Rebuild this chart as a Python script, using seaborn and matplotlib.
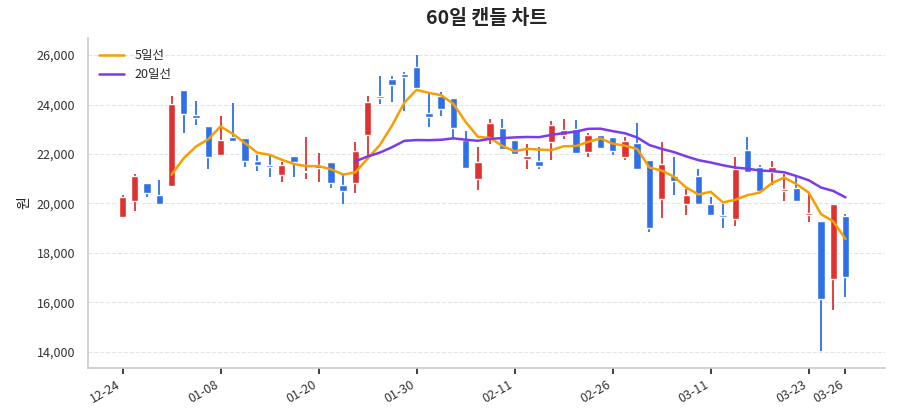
import numpy as np
import pandas as pd
import matplotlib
matplotlib.use('Agg')
import matplotlib.pyplot as plt
import seaborn as sns

opens = [19450, 20080, 20810, 20330, 20690, 24580, 23570, 23120, 21970, 22700,
         22660, 21700, 21550, 21140, 21910, 21260, 21450, 21680, 20730, 20840,
         22770, 24350, 25050, 25220, 25510, 23650, 24330, 24260, 22570, 20970,
         22640, 23070, 22570, 21790, 21700, 22490, 22770, 23000, 22100, 22760,
         22700, 21870, 22450, 21760, 20180, 21110, 19980, 21110, 19980, 19520,
         19390, 22160, 21470, 21290, 20500, 20620, 19520, 19290, 16960, 19500]
closes = [20260, 21110, 20430, 19980, 24030, 23620, 23460, 21890, 22570, 22540,
          21730, 21540, 21460, 21570, 21680, 21300, 21540, 20840, 20490, 22110,
          24110, 24270, 24800, 25100, 24690, 23500, 23810, 23040, 21450, 21680,
          23270, 22190, 21990, 21920, 21530, 23160, 22970, 22030, 22760, 22230,
          22120, 22540, 21390, 18990, 21610, 20890, 20350, 19980, 19540, 19460,
          21410, 21290, 20500, 21460, 20570, 20080, 19600, 16140, 19990, 17020]
highs = [20340, 21180, 20810, 20950, 24350, 24580, 24150, 23120, 23540, 24080,
         22660, 21950, 21950, 21680, 21910, 22690, 22030, 21680, 21160, 22490,
         24350, 25140, 25140, 25300, 26000, 24430, 24490, 24260, 22930, 22300,
         23430, 23430, 22570, 22390, 22300, 23340, 23430, 23390, 22870, 22760,
         22700, 22700, 23240, 21760, 22470, 21890, 20600, 21380, 20270, 19960,
         21890, 22690, 21570, 21730, 21180, 21100, 20420, 19290, 19990, 19560]
lows = [19450, 19690, 20250, 19930, 20690, 22870, 23190, 21410, 21970, 22540,
        21470, 21300, 21070, 20850, 21070, 20970, 20850, 20620, 19980, 20420,
        21790, 24030, 24110, 23730, 24690, 23080, 23540, 22660, 21410, 20540,
        22420, 22190, 21990, 21410, 21410, 21760, 22600, 22030, 21890, 22230,
        21950, 21760, 21390, 18840, 19410, 20340, 19520, 19980, 19540, 19020,
        19080, 21290, 20500, 20760, 20100, 20080, 19270, 14020, 15710, 16200]
tick_pos = [0, 8, 16, 24, 32, 40, 48, 56, 59]
tick_labels = ['12-24', '01-08', '01-20', '01-30', '02-11', '02-26', '03-11', '03-23', '03-26']

sns.set_theme(style='white')
plt.rcParams['font.family'] = ['Noto Sans CJK KR', 'DejaVu Sans']

df = pd.DataFrame({'open': opens, 'close': closes, 'high': highs, 'low': lows})
df['idx'] = np.arange(len(df))
df['ma5'] = df['close'].rolling(5).mean()
df['ma20'] = df['close'].rolling(20).mean()

up_c, down_c = '#e03131', '#2f6fe8'
fig, ax = plt.subplots(figsize=(9, 4.2), dpi=100)
colors = [up_c if c >= o else down_c for o, c in zip(df['open'], df['close'])]
ax.vlines(df['idx'], df['low'], df['high'], colors=colors, linewidth=1.3, zorder=2)
body_lo = np.minimum(df['open'], df['close'])
body_h = np.maximum(np.abs(df['close'] - df['open']), 60)
ax.bar(df['idx'], body_h, bottom=body_lo, width=0.6, color=colors, zorder=3)

sns.lineplot(data=df, x='idx', y='ma5', ax=ax, color='#f59f00', linewidth=1.8, label='5일선', zorder=4)
sns.lineplot(data=df, x='idx', y='ma20', ax=ax, color='#7c3aed', linewidth=1.8, label='20일선', zorder=4)

ax.set_xlim(-2.8, 62.2)
ax.set_ylim(13350, 26700)
ax.set_xticks(tick_pos)
ax.set_xticklabels(tick_labels, rotation=30, ha='right', fontsize=9, color='#333333')
ax.yaxis.set_major_formatter(matplotlib.ticker.FuncFormatter(lambda v, p: f'{v:,.0f}'))
ax.tick_params(axis='y', labelsize=9, colors='#333333')
ax.tick_params(axis='x', length=4, bottom=True)
ax.set_xlabel('')
ax.set_ylabel('원', fontsize=10)
ax.set_title('60일 캔들 차트', fontsize=14, fontweight='bold', pad=10)
ax.grid(axis='y', linestyle='--', color='#e5e5e5', linewidth=0.8)
ax.set_axisbelow(True)
sns.despine(ax=ax)
ax.spines['left'].set_color('#cccccc')
ax.spines['bottom'].set_color('#cccccc')
ax.legend(loc='upper left', frameon=False, fontsize=9)
plt.subplots_adjust(left=0.098, right=0.983, top=0.91, bottom=0.124)
plt.savefig('out.png')
